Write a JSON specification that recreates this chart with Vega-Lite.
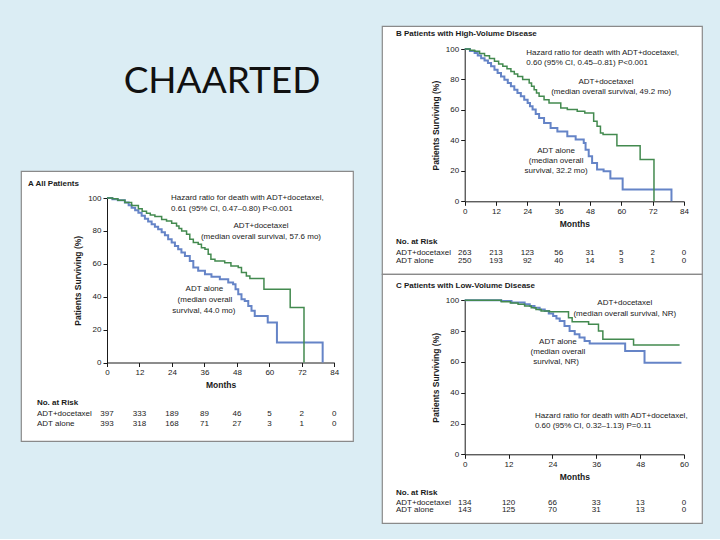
{
  "$schema": "https://vega.github.io/schema/vega-lite/v6.json",
  "background": "#dbedf4",
  "padding": {"left": 20, "top": 25, "right": 18, "bottom": 15},
  "autosize": {"type": "pad"},
  "spacing": 27,
  "config": {
    "font": "Liberation Sans",
    "view": {"stroke": "#8a8a8a", "strokeWidth": 1.2, "fill": "white"},
    "text": {"fontSize": 8, "color": "#1a1a1a"},
    "axis": {"domainColor": "#1a1a1a", "tickColor": "#1a1a1a", "labelColor": "#1a1a1a", "titleColor": "#1a1a1a", "labelFontSize": 8, "titleFontSize": 8.5, "titleFontWeight": "bold", "grid": false, "tickSize": 4, "labelPadding": 2, "labelFlush": false, "labelOverlap": false, "domainWidth": 1, "tickWidth": 1}
  },
  "datasets": {
    "curvesA": [
      {"arm":"ADT+docetaxel","month":0,"pct":100},{"arm":"ADT+docetaxel","month":2,"pct":99.5},{"arm":"ADT+docetaxel","month":4,"pct":98.7},{"arm":"ADT+docetaxel","month":6.6,"pct":97.2},{"arm":"ADT+docetaxel","month":9.1,"pct":95.5},{"arm":"ADT+docetaxel","month":11.6,"pct":93.5},{"arm":"ADT+docetaxel","month":13,"pct":92},{"arm":"ADT+docetaxel","month":14.6,"pct":90.7},{"arm":"ADT+docetaxel","month":16,"pct":89.6},{"arm":"ADT+docetaxel","month":17.7,"pct":88.7},{"arm":"ADT+docetaxel","month":20.2,"pct":87},{"arm":"ADT+docetaxel","month":22,"pct":86},{"arm":"ADT+docetaxel","month":23.9,"pct":84.6},{"arm":"ADT+docetaxel","month":25.7,"pct":83},{"arm":"ADT+docetaxel","month":26.6,"pct":81.5},{"arm":"ADT+docetaxel","month":27.6,"pct":80},{"arm":"ADT+docetaxel","month":29.4,"pct":78},{"arm":"ADT+docetaxel","month":30.6,"pct":75},{"arm":"ADT+docetaxel","month":31.9,"pct":72.9},{"arm":"ADT+docetaxel","month":33.7,"pct":71.9},{"arm":"ADT+docetaxel","month":34.9,"pct":69.8},{"arm":"ADT+docetaxel","month":36.2,"pct":68.8},{"arm":"ADT+docetaxel","month":37.4,"pct":65.8},{"arm":"ADT+docetaxel","month":38.4,"pct":62.8},{"arm":"ADT+docetaxel","month":39.9,"pct":61.7},{"arm":"ADT+docetaxel","month":43.5,"pct":60.7},{"arm":"ADT+docetaxel","month":45.8,"pct":58.7},{"arm":"ADT+docetaxel","month":48.5,"pct":57.7},{"arm":"ADT+docetaxel","month":49.7,"pct":54.7},{"arm":"ADT+docetaxel","month":51.5,"pct":52.6},{"arm":"ADT+docetaxel","month":52.8,"pct":51},{"arm":"ADT+docetaxel","month":58,"pct":44.5},{"arm":"ADT+docetaxel","month":67.7,"pct":33.4},{"arm":"ADT+docetaxel","month":72.8,"pct":0},
      {"arm":"ADT alone","month":0,"pct":100},{"arm":"ADT alone","month":2,"pct":99.3},{"arm":"ADT alone","month":4,"pct":98.6},{"arm":"ADT alone","month":6.6,"pct":97.2},{"arm":"ADT alone","month":8,"pct":95.6},{"arm":"ADT alone","month":9.1,"pct":94},{"arm":"ADT alone","month":10.4,"pct":92.5},{"arm":"ADT alone","month":11.6,"pct":91},{"arm":"ADT alone","month":12.8,"pct":89.2},{"arm":"ADT alone","month":14,"pct":87.4},{"arm":"ADT alone","month":15.2,"pct":85.7},{"arm":"ADT alone","month":16.5,"pct":84},{"arm":"ADT alone","month":17.7,"pct":82.5},{"arm":"ADT alone","month":18.9,"pct":81},{"arm":"ADT alone","month":20.2,"pct":79.2},{"arm":"ADT alone","month":21.4,"pct":77.3},{"arm":"ADT alone","month":22.6,"pct":75},{"arm":"ADT alone","month":23.9,"pct":72.9},{"arm":"ADT alone","month":25.1,"pct":70.8},{"arm":"ADT alone","month":26.3,"pct":68.8},{"arm":"ADT alone","month":27.5,"pct":66.8},{"arm":"ADT alone","month":28.8,"pct":64.8},{"arm":"ADT alone","month":30.6,"pct":61.7},{"arm":"ADT alone","month":31.9,"pct":57.7},{"arm":"ADT alone","month":33.7,"pct":55.7},{"arm":"ADT alone","month":36.2,"pct":53.6},{"arm":"ADT alone","month":38.6,"pct":52.2},{"arm":"ADT alone","month":41.7,"pct":50.6},{"arm":"ADT alone","month":44.8,"pct":48.6},{"arm":"ADT alone","month":46.6,"pct":47.6},{"arm":"ADT alone","month":47.5,"pct":44.5},{"arm":"ADT alone","month":48.5,"pct":41.5},{"arm":"ADT alone","month":49.7,"pct":38.5},{"arm":"ADT alone","month":50.9,"pct":37.4},{"arm":"ADT alone","month":52.2,"pct":34.4},{"arm":"ADT alone","month":53.4,"pct":31.4},{"arm":"ADT alone","month":54.6,"pct":28.3},{"arm":"ADT alone","month":59.4,"pct":24.3},{"arm":"ADT alone","month":62.8,"pct":12.1},{"arm":"ADT alone","month":79.7,"pct":0}
    ],
    "curvesB": [
      {"arm":"ADT+docetaxel","month":0,"pct":100},{"arm":"ADT+docetaxel","month":2,"pct":99.2},{"arm":"ADT+docetaxel","month":3.8,"pct":98.5},{"arm":"ADT+docetaxel","month":5.7,"pct":97.1},{"arm":"ADT+docetaxel","month":7.6,"pct":95.6},{"arm":"ADT+docetaxel","month":9.5,"pct":93.8},{"arm":"ADT+docetaxel","month":11.4,"pct":91.9},{"arm":"ADT+docetaxel","month":13,"pct":90.2},{"arm":"ADT+docetaxel","month":14.6,"pct":88.6},{"arm":"ADT+docetaxel","month":16.2,"pct":87},{"arm":"ADT+docetaxel","month":17.7,"pct":85.3},{"arm":"ADT+docetaxel","month":19,"pct":83.6},{"arm":"ADT+docetaxel","month":20.3,"pct":82},{"arm":"ADT+docetaxel","month":22.2,"pct":79.9},{"arm":"ADT+docetaxel","month":24.7,"pct":77.7},{"arm":"ADT+docetaxel","month":25.6,"pct":75.5},{"arm":"ADT+docetaxel","month":26.6,"pct":73.3},{"arm":"ADT+docetaxel","month":27.5,"pct":71.1},{"arm":"ADT+docetaxel","month":28.5,"pct":68.9},{"arm":"ADT+docetaxel","month":30.4,"pct":66.7},{"arm":"ADT+docetaxel","month":32.3,"pct":64.6},{"arm":"ADT+docetaxel","month":36.8,"pct":61.3},{"arm":"ADT+docetaxel","month":39.3,"pct":60.2},{"arm":"ADT+docetaxel","month":43.1,"pct":59.1},{"arm":"ADT+docetaxel","month":46,"pct":58},{"arm":"ADT+docetaxel","month":49.4,"pct":52.5},{"arm":"ADT+docetaxel","month":50.7,"pct":49.2},{"arm":"ADT+docetaxel","month":52,"pct":44.9},{"arm":"ADT+docetaxel","month":53,"pct":43.8},{"arm":"ADT+docetaxel","month":58.3,"pct":36.5},{"arm":"ADT+docetaxel","month":67.2,"pct":27.4},{"arm":"ADT+docetaxel","month":72.5,"pct":0},
      {"arm":"ADT alone","month":0,"pct":100},{"arm":"ADT alone","month":2,"pct":98.7},{"arm":"ADT alone","month":3.8,"pct":97.4},{"arm":"ADT alone","month":5,"pct":95.7},{"arm":"ADT alone","month":6.3,"pct":94},{"arm":"ADT alone","month":7.6,"pct":92.4},{"arm":"ADT alone","month":8.9,"pct":90.8},{"arm":"ADT alone","month":10.1,"pct":88.6},{"arm":"ADT alone","month":11.4,"pct":86.4},{"arm":"ADT alone","month":12.6,"pct":84.2},{"arm":"ADT alone","month":13.9,"pct":82},{"arm":"ADT alone","month":15.2,"pct":79.8},{"arm":"ADT alone","month":16.5,"pct":77.7},{"arm":"ADT alone","month":17.7,"pct":75.5},{"arm":"ADT alone","month":19,"pct":73.3},{"arm":"ADT alone","month":20.2,"pct":71.1},{"arm":"ADT alone","month":21.5,"pct":68.9},{"arm":"ADT alone","month":22.8,"pct":66.7},{"arm":"ADT alone","month":24.1,"pct":64.6},{"arm":"ADT alone","month":25,"pct":62.4},{"arm":"ADT alone","month":26,"pct":60.2},{"arm":"ADT alone","month":27.2,"pct":57.4},{"arm":"ADT alone","month":28.5,"pct":54.7},{"arm":"ADT alone","month":30.4,"pct":51.4},{"arm":"ADT alone","month":32.9,"pct":48.1},{"arm":"ADT alone","month":35.5,"pct":45.9},{"arm":"ADT alone","month":39.3,"pct":42.7},{"arm":"ADT alone","month":42.5,"pct":40.5},{"arm":"ADT alone","month":45.6,"pct":38.3},{"arm":"ADT alone","month":46.3,"pct":33.9},{"arm":"ADT alone","month":47.5,"pct":29.5},{"arm":"ADT alone","month":48.8,"pct":25.2},{"arm":"ADT alone","month":50.7,"pct":20.8},{"arm":"ADT alone","month":53.2,"pct":19.7},{"arm":"ADT alone","month":55.8,"pct":15},{"arm":"ADT alone","month":60.5,"pct":7.7},{"arm":"ADT alone","month":79.2,"pct":0}
    ],
    "curvesC": [
      {"arm":"ADT+docetaxel","month":0,"pct":100},{"arm":"ADT+docetaxel","month":10,"pct":99.1},{"arm":"ADT+docetaxel","month":12.5,"pct":98.3},{"arm":"ADT+docetaxel","month":14.6,"pct":97.4},{"arm":"ADT+docetaxel","month":16.4,"pct":96.3},{"arm":"ADT+docetaxel","month":18.2,"pct":95.2},{"arm":"ADT+docetaxel","month":19.5,"pct":94.1},{"arm":"ADT+docetaxel","month":20.9,"pct":93.1},{"arm":"ADT+docetaxel","month":23.2,"pct":92.6},{"arm":"ADT+docetaxel","month":28.4,"pct":88.7},{"arm":"ADT+docetaxel","month":29.4,"pct":86.1},{"arm":"ADT+docetaxel","month":33.9,"pct":84.4},{"arm":"ADT+docetaxel","month":36.6,"pct":80.1},{"arm":"ADT+docetaxel","month":37.8,"pct":74.7},{"arm":"ADT+docetaxel","month":46.2,"pct":71},{"arm":"ADT+docetaxel","month":58.8,"pct":71},
      {"arm":"ADT alone","month":0,"pct":100},{"arm":"ADT alone","month":10,"pct":99.6},{"arm":"ADT alone","month":12.8,"pct":98.5},{"arm":"ADT alone","month":16.4,"pct":97.4},{"arm":"ADT alone","month":17.8,"pct":96.3},{"arm":"ADT alone","month":19.1,"pct":95.2},{"arm":"ADT alone","month":20.5,"pct":94.1},{"arm":"ADT alone","month":21.9,"pct":93.1},{"arm":"ADT alone","month":23,"pct":91.5},{"arm":"ADT alone","month":24.2,"pct":89.8},{"arm":"ADT alone","month":25.1,"pct":88.2},{"arm":"ADT alone","month":26,"pct":86.6},{"arm":"ADT alone","month":27.3,"pct":83.3},{"arm":"ADT alone","month":28.7,"pct":80.1},{"arm":"ADT alone","month":30.1,"pct":77.9},{"arm":"ADT alone","month":31.4,"pct":75.8},{"arm":"ADT alone","month":32.8,"pct":73.6},{"arm":"ADT alone","month":34.2,"pct":71.9},{"arm":"ADT alone","month":43.9,"pct":67.1},{"arm":"ADT alone","month":49.2,"pct":59.5},{"arm":"ADT alone","month":59.3,"pct":59.5}
    ],
    "riskA": [
      {"arm":"ADT+docetaxel","month":0,"n":397},{"arm":"ADT+docetaxel","month":12,"n":333},{"arm":"ADT+docetaxel","month":24,"n":189},{"arm":"ADT+docetaxel","month":36,"n":89},{"arm":"ADT+docetaxel","month":48,"n":46},{"arm":"ADT+docetaxel","month":60,"n":5},{"arm":"ADT+docetaxel","month":72,"n":2},{"arm":"ADT+docetaxel","month":84,"n":0},
      {"arm":"ADT alone","month":0,"n":393},{"arm":"ADT alone","month":12,"n":318},{"arm":"ADT alone","month":24,"n":168},{"arm":"ADT alone","month":36,"n":71},{"arm":"ADT alone","month":48,"n":27},{"arm":"ADT alone","month":60,"n":3},{"arm":"ADT alone","month":72,"n":1},{"arm":"ADT alone","month":84,"n":0}
    ],
    "riskB": [
      {"arm":"ADT+docetaxel","month":0,"n":263},{"arm":"ADT+docetaxel","month":12,"n":213},{"arm":"ADT+docetaxel","month":24,"n":123},{"arm":"ADT+docetaxel","month":36,"n":56},{"arm":"ADT+docetaxel","month":48,"n":31},{"arm":"ADT+docetaxel","month":60,"n":5},{"arm":"ADT+docetaxel","month":72,"n":2},{"arm":"ADT+docetaxel","month":84,"n":0},
      {"arm":"ADT alone","month":0,"n":250},{"arm":"ADT alone","month":12,"n":193},{"arm":"ADT alone","month":24,"n":92},{"arm":"ADT alone","month":36,"n":40},{"arm":"ADT alone","month":48,"n":14},{"arm":"ADT alone","month":60,"n":3},{"arm":"ADT alone","month":72,"n":1},{"arm":"ADT alone","month":84,"n":0}
    ],
    "riskC": [
      {"arm":"ADT+docetaxel","month":0,"n":134},{"arm":"ADT+docetaxel","month":12,"n":120},{"arm":"ADT+docetaxel","month":24,"n":66},{"arm":"ADT+docetaxel","month":36,"n":33},{"arm":"ADT+docetaxel","month":48,"n":13},{"arm":"ADT+docetaxel","month":60,"n":0},
      {"arm":"ADT alone","month":0,"n":143},{"arm":"ADT alone","month":12,"n":125},{"arm":"ADT alone","month":24,"n":70},{"arm":"ADT alone","month":36,"n":31},{"arm":"ADT alone","month":48,"n":13},{"arm":"ADT alone","month":60,"n":0}
    ],
    "leftA": [
      {"month":23.65,"pct":100.2,"t":"Hazard ratio for death with ADT+docetaxel,"},
      {"month":23.65,"pct":93.5,"t":"0.61 (95% CI, 0.47–0.80) P<0.001"},
      {"month":-25.9,"pct":-31.3,"t":"ADT+docetaxel"},
      {"month":-25.9,"pct":-37.4,"t":"ADT alone"}
    ],
    "centerA": [
      {"month":56.9,"pct":83,"t":"ADT+docetaxel"},
      {"month":56.9,"pct":76.3,"t":"(median overall survival, 57.6 mo)"},
      {"month":36,"pct":44.9,"t":"ADT alone"},
      {"month":36.2,"pct":38,"t":"(median overall"},
      {"month":35.8,"pct":31.3,"t":"survival, 44.0 mo)"}
    ],
    "boldA": [
      {"month":-29.2,"pct":108.5,"t":"A  All Patients"},
      {"month":-25.9,"pct":-24.6,"t":"No. at Risk"}
    ],
    "leftB": [
      {"month":23.6,"pct":97.6,"t":"Hazard ratio for death with ADT+docetaxel,"},
      {"month":23.6,"pct":91,"t":"0.60 (95% CI, 0.45–0.81) P<0.001"},
      {"month":-26.3,"pct":-34.1,"t":"ADT+docetaxel"},
      {"month":-26.3,"pct":-39.2,"t":"ADT alone"}
    ],
    "centerB": [
      {"month":54.1,"pct":78.3,"t":"ADT+docetaxel"},
      {"month":56.1,"pct":71.8,"t":"(median overall survival, 49.2 mo)"},
      {"month":35,"pct":33,"t":"ADT alone"},
      {"month":35,"pct":26.5,"t":"(median overall"},
      {"month":35,"pct":19.9,"t":"survival, 32.2 mo)"}
    ],
    "boldB": [
      {"month":-26.3,"pct":109.7,"t":"B  Patients with High-Volume Disease"},
      {"month":-26.3,"pct":-26.7,"t":"No. at Risk"}
    ],
    "leftC": [
      {"month":19.2,"pct":24.9,"t":"Hazard ratio for death with ADT+docetaxel,"},
      {"month":19.2,"pct":18.4,"t":"0.60 (95% CI, 0.32–1.13) P=0.11"},
      {"month":-18.8,"pct":-31.4,"t":"ADT+docetaxel"},
      {"month":-18.8,"pct":-36.4,"t":"ADT alone"}
    ],
    "centerC": [
      {"month":43.8,"pct":98,"t":"ADT+docetaxel"},
      {"month":43.8,"pct":91.3,"t":"(median overall survival, NR)"},
      {"month":25.5,"pct":72.9,"t":"ADT alone"},
      {"month":25.5,"pct":66.6,"t":"(median overall"},
      {"month":25,"pct":60.1,"t":"survival, NR)"}
    ],
    "boldC": [
      {"month":-18.8,"pct":109.3,"t":"C  Patients with Low-Volume Disease"},
      {"month":-18.8,"pct":-24.9,"t":"No. at Risk"}
    ]
  },
  "hconcat": [
    {
      "vconcat": [
        {
          "width": 332, "height": 107,
          "view": {"stroke": null, "fill": null},
          "data": {"values": [{"label": "CHAARTED"}]},
          "mark": {"type": "text", "font": "Lato", "fontSize": 37, "color": "#111111", "align": "center", "baseline": "alphabetic", "dx": 35, "dy": 13.5},
          "encoding": {"text": {"field": "label"}}
        },
        {
          "width": 332, "height": 270,
          "encoding": {
            "x": {"field": "month", "type": "quantitative", "scale": {"domain": [0, 84], "range": [86, 313.3], "nice": false, "zero": false}, "axis": {"values": [0,12,24,36,48,60,72,84], "offset": -78.5, "title": "Months", "titlePadding": 4}}
          },
          "layer": [
            {
              "encoding": {
                "y": {"field": "pct", "type": "quantitative", "scale": {"domain": [0, 100], "range": [191.5, 27], "nice": false, "zero": false}, "axis": {"values": [0,20,40,60,80,100], "offset": -86, "title": "Patients Surviving (%)", "titlePadding": 5}}
              },
              "layer": [
                {"data": {"name": "curvesA"}, "transform": [{"filter": "datum.arm === 'ADT alone'"}], "mark": {"type": "line", "interpolate": "step-after", "color": "#6584c7", "strokeWidth": 2}},
                {"data": {"name": "curvesA"}, "transform": [{"filter": "datum.arm === 'ADT+docetaxel'"}], "mark": {"type": "line", "interpolate": "step-after", "color": "#438a4f", "strokeWidth": 1.5}},
                {"data": {"name": "leftA"}, "mark": {"type": "text", "align": "left", "baseline": "middle"}, "encoding": {"text": {"field": "t"}}},
                {"data": {"name": "centerA"}, "mark": {"type": "text", "align": "center", "baseline": "middle"}, "encoding": {"text": {"field": "t"}}},
                {"data": {"name": "boldA"}, "mark": {"type": "text", "align": "left", "baseline": "middle", "fontWeight": "bold"}, "encoding": {"text": {"field": "t"}}}
              ]
            },
            {"data": {"name": "riskA"}, "transform": [{"filter": "datum.arm === 'ADT+docetaxel'"}], "mark": {"type": "text", "align": "center", "baseline": "middle"}, "encoding": {"y": {"datum": -31.3, "type": "quantitative"}, "text": {"field": "n"}}},
            {"data": {"name": "riskA"}, "transform": [{"filter": "datum.arm === 'ADT alone'"}], "mark": {"type": "text", "align": "center", "baseline": "middle"}, "encoding": {"y": {"datum": -37.4, "type": "quantitative"}, "text": {"field": "n"}}}
          ]
        }
      ],
      "spacing": 38,
      "bounds": "flush"
    },
    {
      "vconcat": [
        {
          "width": 320, "height": 248,
          "encoding": {
            "x": {"field": "month", "type": "quantitative", "scale": {"domain": [0, 84], "range": [82.7, 302], "nice": false, "zero": false}, "axis": {"values": [0,12,24,36,48,60,72,84], "offset": -72.7, "title": "Months", "titlePadding": 4}}
          },
          "layer": [
            {
              "encoding": {
                "y": {"field": "pct", "type": "quantitative", "scale": {"domain": [0, 100], "range": [175.3, 23], "nice": false, "zero": false}, "axis": {"values": [0,20,40,60,80,100], "offset": -82.7, "title": "Patients Surviving (%)", "titlePadding": 5}}
              },
              "layer": [
                {"data": {"name": "curvesB"}, "transform": [{"filter": "datum.arm === 'ADT alone'"}], "mark": {"type": "line", "interpolate": "step-after", "color": "#6584c7", "strokeWidth": 2}},
                {"data": {"name": "curvesB"}, "transform": [{"filter": "datum.arm === 'ADT+docetaxel'"}], "mark": {"type": "line", "interpolate": "step-after", "color": "#438a4f", "strokeWidth": 1.5}},
                {"data": {"name": "leftB"}, "mark": {"type": "text", "align": "left", "baseline": "middle"}, "encoding": {"text": {"field": "t"}}},
                {"data": {"name": "centerB"}, "mark": {"type": "text", "align": "center", "baseline": "middle"}, "encoding": {"text": {"field": "t"}}},
                {"data": {"name": "boldB"}, "mark": {"type": "text", "align": "left", "baseline": "middle", "fontWeight": "bold"}, "encoding": {"text": {"field": "t"}}}
              ]
            },
            {"data": {"name": "riskB"}, "transform": [{"filter": "datum.arm === 'ADT+docetaxel'"}], "mark": {"type": "text", "align": "center", "baseline": "middle"}, "encoding": {"y": {"datum": -34.1, "type": "quantitative"}, "text": {"field": "n"}}},
            {"data": {"name": "riskB"}, "transform": [{"filter": "datum.arm === 'ADT alone'"}], "mark": {"type": "text", "align": "center", "baseline": "middle"}, "encoding": {"y": {"datum": -39.2, "type": "quantitative"}, "text": {"field": "n"}}}
          ]
        },
        {
          "width": 320, "height": 249,
          "encoding": {
            "x": {"field": "month", "type": "quantitative", "scale": {"domain": [0, 60], "range": [82.7, 302], "nice": false, "zero": false}, "axis": {"values": [0,12,24,36,48,60], "offset": -68.7, "title": "Months", "titlePadding": 4}}
          },
          "layer": [
            {
              "encoding": {
                "y": {"field": "pct", "type": "quantitative", "scale": {"domain": [0, 100], "range": [180.3, 26.3], "nice": false, "zero": false}, "axis": {"values": [0,20,40,60,80,100], "offset": -82.7, "title": "Patients Surviving (%)", "titlePadding": 5}}
              },
              "layer": [
                {"data": {"name": "curvesC"}, "transform": [{"filter": "datum.arm === 'ADT alone'"}], "mark": {"type": "line", "interpolate": "step-after", "color": "#6584c7", "strokeWidth": 2}},
                {"data": {"name": "curvesC"}, "transform": [{"filter": "datum.arm === 'ADT+docetaxel'"}], "mark": {"type": "line", "interpolate": "step-after", "color": "#438a4f", "strokeWidth": 1.5}},
                {"data": {"name": "leftC"}, "mark": {"type": "text", "align": "left", "baseline": "middle"}, "encoding": {"text": {"field": "t"}}},
                {"data": {"name": "centerC"}, "mark": {"type": "text", "align": "center", "baseline": "middle"}, "encoding": {"text": {"field": "t"}}},
                {"data": {"name": "boldC"}, "mark": {"type": "text", "align": "left", "baseline": "middle", "fontWeight": "bold"}, "encoding": {"text": {"field": "t"}}}
              ]
            },
            {"data": {"name": "riskC"}, "transform": [{"filter": "datum.arm === 'ADT+docetaxel'"}], "mark": {"type": "text", "align": "center", "baseline": "middle"}, "encoding": {"y": {"datum": -31.4, "type": "quantitative"}, "text": {"field": "n"}}},
            {"data": {"name": "riskC"}, "transform": [{"filter": "datum.arm === 'ADT alone'"}], "mark": {"type": "text", "align": "center", "baseline": "middle"}, "encoding": {"y": {"datum": -36.4, "type": "quantitative"}, "text": {"field": "n"}}}
          ]
        }
      ],
      "spacing": 0,
      "bounds": "flush"
    }
  ]
}
